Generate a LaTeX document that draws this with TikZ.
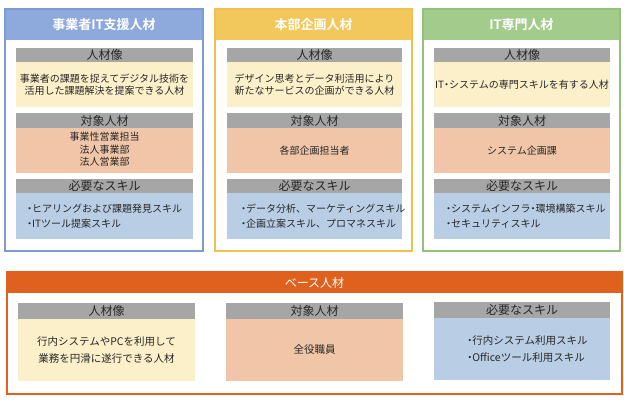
\documentclass[tikz,border=0pt]{standalone}
\usepackage{fontspec}
\setmainfont{Noto Sans CJK JP}[BoldFont={Noto Sans CJK JP Bold}]
\newcommand\nd{{\addfontfeature{RawFeature=+palt}・}}
\definecolor{cA}{HTML}{8EA9DB}
\definecolor{cAf}{HTML}{7F9BCF}
\definecolor{cB}{HTML}{F2C85C}
\definecolor{cBf}{HTML}{F0C050}
\definecolor{cC}{HTML}{A3CB8C}
\definecolor{cCf}{HTML}{93C07A}
\definecolor{cD}{HTML}{E0601E}
\definecolor{hgray}{HTML}{A6A6A6}
\definecolor{cream}{HTML}{FCF0CB}
\definecolor{salmon}{HTML}{F1C6A8}
\definecolor{lblue}{HTML}{B9CEE5}
\definecolor{txt}{HTML}{262626}
\tikzset{
  rect/.style={draw=none,inner sep=0pt,outer sep=0pt,anchor=north west},
  frame/.style={rect,fill=none,line width=2pt},
  title/.style={font=\fontsize{13}{15}\selectfont\bfseries,text=white,inner sep=0pt},
  btitle/.style={font=\fontsize{12}{14}\selectfont,text=white,inner sep=0pt},
  ghdr/.style={font=\fontsize{12}{14}\selectfont,text=txt,inner sep=0pt},
  body/.style={font=\fontsize{10}{#1}\selectfont,text=txt,inner sep=0pt,align=center},
  body/.default=12,
  bbody/.style={font=\fontsize{10.5}{17}\selectfont,text=txt,inner sep=0pt,align=center},
}
\newcommand\rb[7][]{\node[rect,#1,fill=#3,minimum width={#6pt-#4pt},minimum height={#7pt-#5pt}] (#2) at (#4,#5) {};}
\newcommand\fr[6]{\node[frame,draw=#2,minimum width={#5pt-#3pt},minimum height={#6pt-#4pt}] (#1) at (#3,#4) {};}
\begin{document}
\begin{tikzpicture}[x=1pt,y=-1pt]
\useasboundingbox (0,0) rectangle (624,406);
\fill[white] (0,0) rectangle (624,406);
% ---------- column 1
\rb{h1}{cA}{5}{9}{203}{40}
\fr{f1}{cAf}{5}{9}{203}{251}
\node[title] (t1) at (h1.center) {事業者IT支援人材};
\rb{g11}{hgray}{16}{48}{193}{62}
\rb{p11}{cream}{16}{62}{193}{107}
\rb{g12}{hgray}{16}{113}{193}{128}
\rb{p12}{salmon}{16}{128}{193}{173}
\rb{g13}{hgray}{16}{179}{193}{193}
\rb{p13}{lblue}{16}{193}{193}{239}
\node[ghdr] (g11t) at (g11.center) {人材像};
\node[ghdr] (g12t) at (g12.center) {対象人材};
\node[ghdr] (g13t) at (g13.center) {必要なスキル};
\node[body=11.5] (p11t) at (p11.center) {事業者の課題を捉えてデジタル技術を\\活用した課題解決を提案できる人材};
\node[body=12.5] (p12t) at ([yshift=1pt]p12.center) {事業性営業担当\\法人事業部\\法人営業部};
\node[body=15,align=left,anchor=west] (p13t) at ([xshift=11pt]p13.west) {\nd ヒアリングおよび課題発見スキル\\\nd ITツール提案スキル};
% ---------- column 2
\rb{h2}{cB}{215}{9}{412}{40}
\fr{f2}{cBf}{215}{9}{412}{251}
\node[title] (t2) at (h2.center) {本部企画人材};
\rb{g21}{hgray}{227}{48}{402}{62}
\rb{p21}{cream}{227}{62}{402}{107}
\rb{g22}{hgray}{227}{113}{402}{128}
\rb{p22}{salmon}{227}{128}{402}{173}
\rb{g23}{hgray}{227}{179}{402}{193}
\rb{p23}{lblue}{227}{193}{402}{239}
\node[ghdr] (g21t) at (g21.center) {人材像};
\node[ghdr] (g22t) at (g22.center) {対象人材};
\node[ghdr] (g23t) at (g23.center) {必要なスキル};
\node[body=11.5] (p21t) at (p21.center) {デザイン思考とデータ利活用により\\新たなサービスの企画ができる人材};
\node[body] (p22t) at (p22.center) {各部企画担当者};
\node[body=15,align=left,anchor=west] (p23t) at ([xshift=14pt]p23.west) {\nd データ分析、マーケティングスキル\\\nd 企画立案スキル、プロマネスキル};
% ---------- column 3
\rb{h3}{cC}{423}{9}{620}{40}
\fr{f3}{cCf}{423}{9}{620}{251}
\node[title] (t3) at (h3.center) {IT専門人材};
\rb{g31}{hgray}{434}{48}{610}{62}
\rb{p31}{cream}{434}{62}{610}{107}
\rb{g32}{hgray}{434}{113}{610}{128}
\rb{p32}{salmon}{434}{128}{610}{173}
\rb{g33}{hgray}{434}{179}{610}{193}
\rb{p33}{lblue}{434}{193}{610}{239}
\node[ghdr] (g31t) at (g31.center) {人材像};
\node[ghdr] (g32t) at (g32.center) {対象人材};
\node[ghdr] (g33t) at (g33.center) {必要なスキル};
\node[body] (p31t) at (p31.center) {IT\nd システムの専門スキルを有する人材};
\node[body] (p32t) at (p32.center) {システム企画課};
\node[body=15,align=left,anchor=west] (p33t) at ([xshift=12pt]p33.west) {\nd システムインフラ\nd 環境構築スキル\\\nd セキュリティスキル};
% ---------- base
\rb{h4}{cD}{7}{272}{622}{293}
\fr{f4}{cD}{7}{272}{622}{394}
\node[btitle] (t4) at (h4.center) {ベース人材};
\rb{g41}{hgray}{18}{303}{195}{319}
\rb{p41}{cream}{18}{319}{195}{381}
\rb{g42}{hgray}{226}{303}{403}{319}
\rb{p42}{salmon}{226}{319}{403}{381}
\rb{g43}{hgray}{434}{302}{610}{318}
\rb{p43}{lblue}{434}{318}{610}{380}
\node[ghdr] (g41t) at (g41.center) {人材像};
\node[ghdr] (g42t) at (g42.center) {対象人材};
\node[ghdr] (g43t) at (g43.center) {必要なスキル};
\node[bbody] (p41t) at (p41.center) {行内システムやPCを利用して\\業務を円滑に遂行できる人材};
\node[bbody] (p42t) at (p42.center) {全役職員};
\node[bbody,align=left,anchor=west] (p43t) at ([xshift=33pt]p43.west) {\nd 行内システム利用スキル\\\nd Officeツール利用スキル};
\end{tikzpicture}
\end{document}
